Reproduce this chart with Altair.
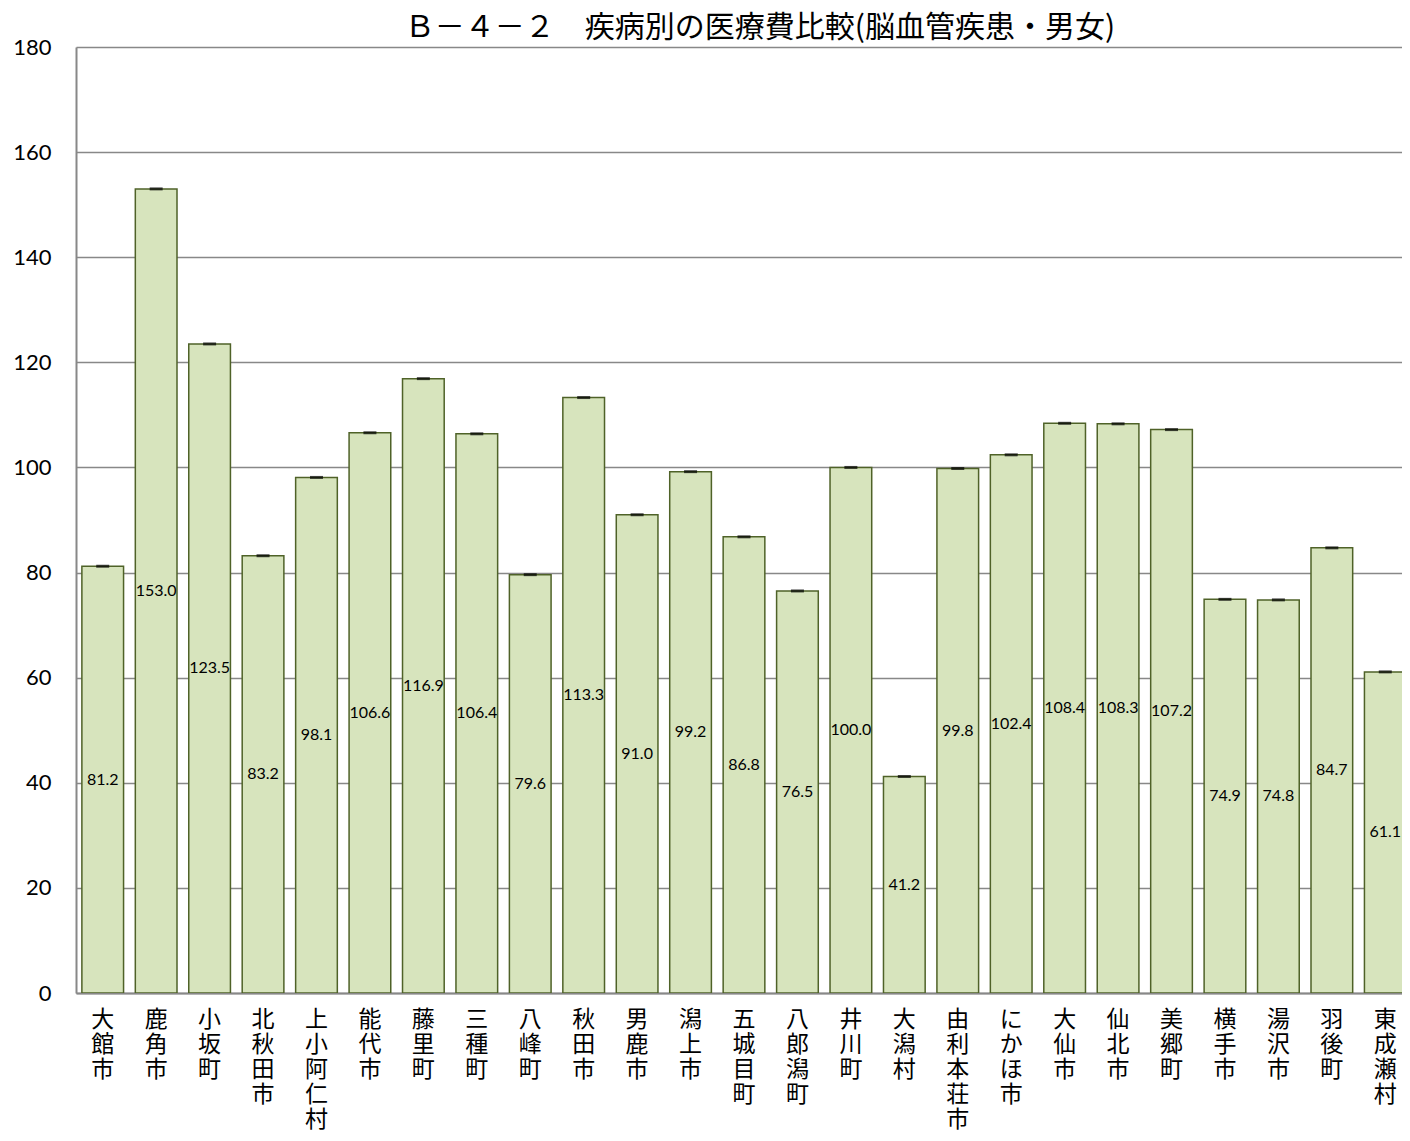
import altair as alt
import pandas as pd

names = ["大館市", "鹿角市", "小坂町", "北秋田市", "上小阿仁村", "能代市", "藤里町", "三種町",
         "八峰町", "秋田市", "男鹿市", "潟上市", "五城目町", "八郎潟町", "井川町", "大潟村",
         "由利本荘市", "にかほ市", "大仙市", "仙北市", "美郷町", "横手市", "湯沢市", "羽後町", "東成瀬村"]
values = [81.2, 153.0, 123.5, 83.2, 98.1, 106.6, 116.9, 106.4, 79.6, 113.3, 91.0, 99.2,
          86.8, 76.5, 100.0, 41.2, 99.8, 102.4, 108.4, 108.3, 107.2, 74.9, 74.8, 84.7, 61.1]
y_ticks = [0, 20, 40, 60, 80, 100, 120, 140, 160, 180]
title_text = "Ｂ－４－２　疾病別の医療費比較(脳血管疾患・男女)"

df = pd.DataFrame({"name": names, "value": values})
df["half"] = df["value"] / 2
df["label"] = df["value"].map(lambda v: f"{v:.1f}")

W = 1326
H = 946

xscale = alt.Scale(domain=names, range=[0, 1336], paddingInner=0.22, paddingOuter=0.11)
yscale = alt.Scale(domain=[0, 180], nice=False)

x_enc = alt.X("name:N", scale=xscale, sort=None, title=None,
              axis=alt.Axis(labelAngle=0, labelExpr="split(datum.label, '')",
                            labelFont="Noto Sans CJK JP", labelFontSize=23,
                            labelLineHeight=25, labelColor="#000000",
                            labelBaseline="top", labelPadding=15,
                            ticks=False, domainColor="#888888", domainWidth=2,
                            labelLimit=0))

base = alt.Chart(df)

bars = base.mark_bar(fill="#D7E4BD", stroke="#4F6228", strokeWidth=1.5, clip=True).encode(
    x=x_enc,
    y=alt.Y("value:Q", scale=yscale, title=None,
            axis=alt.Axis(values=y_ticks, labelFont="Lato", labelFontSize=22,
                          labelColor="#000000", labelPadding=25, ticks=False,
                          grid=True, gridColor="#888888", gridWidth=1.5,
                          domainColor="#888888", domainWidth=2)),
)

caps = base.mark_tick(color="#000000", size=13, thickness=3, clip=True).encode(
    x=alt.X("name:N", scale=xscale, sort=None),
    y=alt.Y("value:Q", scale=yscale),
)

labels = base.mark_text(font="Lato", fontSize=16, color="#000000").encode(
    x=alt.X("name:N", scale=xscale, sort=None),
    y=alt.Y("half:Q", scale=yscale),
    text="label:N",
)

chart = alt.layer(bars, caps, labels).properties(
    width=W, height=H,
    title=alt.TitleParams(title_text, font="Noto Sans CJK JP", fontSize=30,
                          fontWeight="normal", color="#000000", anchor="middle",
                          offset=2, dx=21, dy=9),
    autosize=alt.AutoSizeParams(type="none"),
    padding={"left": 68, "top": 39, "right": 0, "bottom": 140},
).configure_view(stroke=None).configure_axis(gridDash=[])

chart.save("out.html", embed_options={"renderer": "svg", "actions": False})
